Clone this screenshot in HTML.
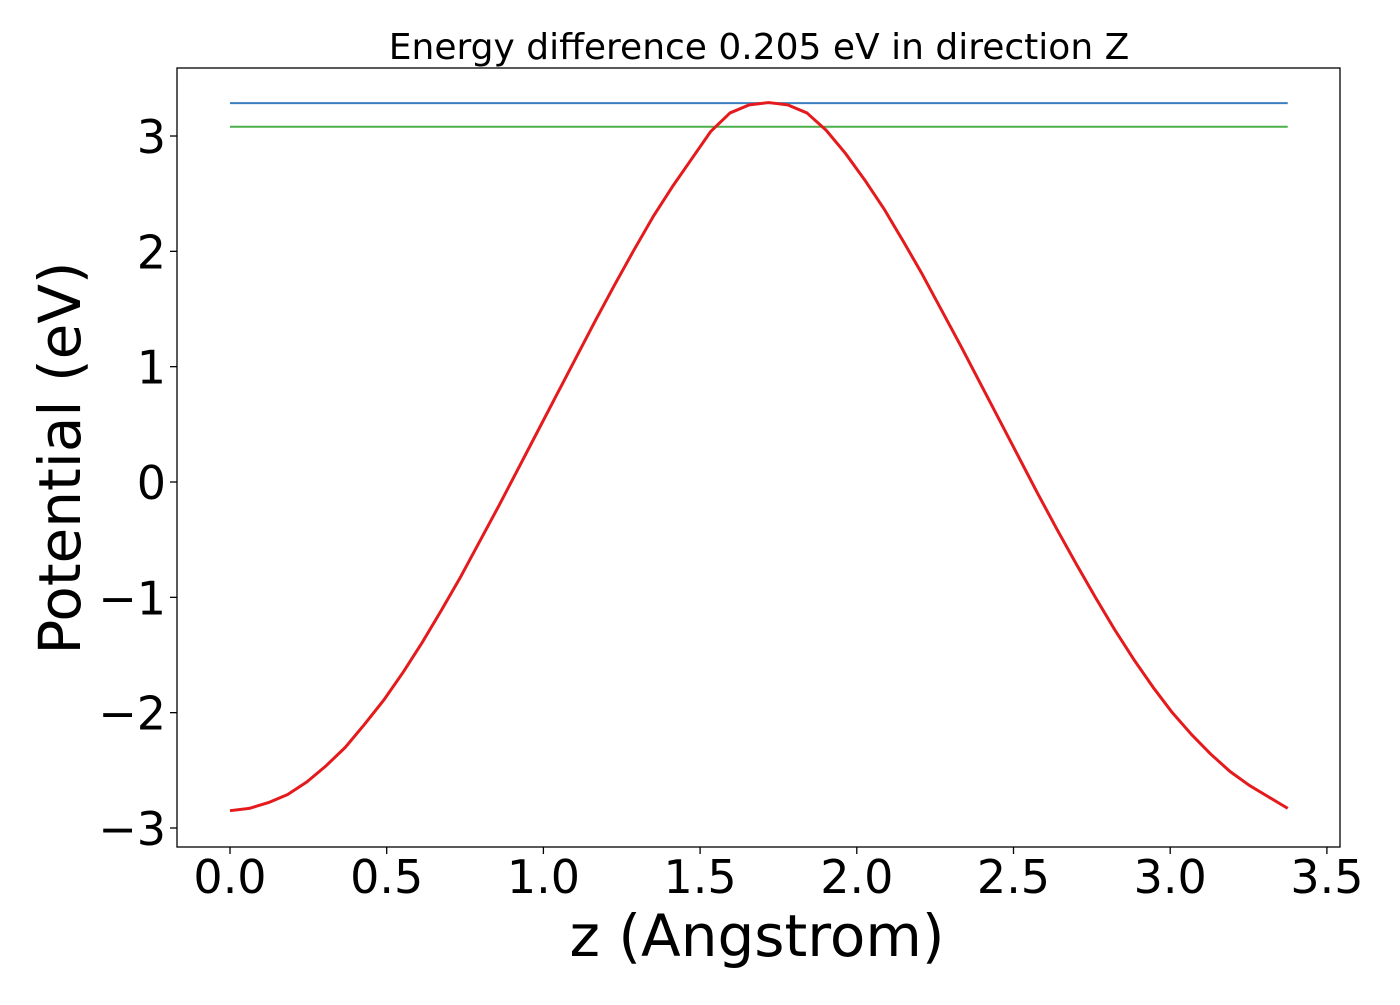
<!DOCTYPE html>
<html><head><meta charset="utf-8"><style>
body{margin:0;background:#fff}
svg text{font-family:"DejaVu Sans","Liberation Sans",sans-serif;fill:#000}
</style></head><body>
<svg id="chart" width="1400" height="1000">
<rect x="0" y="0" width="1400" height="1000" fill="#fff"/>
<text x="759" y="59" font-size="36" text-anchor="middle">Energy difference 0.205 eV in direction Z</text>
<g id="marks"></g>
<g id="axes"></g>
<text x="757" y="956" font-size="58" text-anchor="middle">z (Angstrom)</text>
<text transform="translate(80,458) rotate(-90)" font-size="58" text-anchor="middle">Potential (eV)</text>
</svg>
<script>
const potential=[-2.85,-2.83,-2.78,-2.71,-2.60,-2.46,-2.30,-2.10,-1.89,-1.65,-1.39,-1.11,-0.82,-0.51,-0.20,0.12,0.44,0.76,1.08,1.40,1.71,2.01,2.30,2.56,2.80,3.04,3.20,3.27,3.29,3.27,3.20,3.05,2.85,2.62,2.37,2.09,1.80,1.49,1.18,0.86,0.54,0.22,-0.10,-0.41,-0.71,-1.00,-1.28,-1.54,-1.78,-2.00,-2.19,-2.36,-2.51,-2.63,-2.73,-2.83];
const zStart=0, zEnd=3.375;
const maxLevel=3.285, minLevel=3.08;
const xTicks=[0,0.5,1.0,1.5,2.0,2.5,3.0,3.5];
const xTickLabels=["0.0","0.5","1.0","1.5","2.0","2.5","3.0","3.5"];
const yTicks=[-3,-2,-1,0,1,2,3];
const yTickLabels=["\u22123","\u22122","\u22121","0","1","2","3"];
const L=177,R=1340,T=68,B=847;
const xs=v=>230+v*313.4;
const ys=v=>482-v*115.33;
const NS="http://www.w3.org/2000/svg";
const marks=document.getElementById('marks'), axes=document.getElementById('axes');
function mk(tag,attrs,parent){const e=document.createElementNS(NS,tag);for(const k in attrs)e.setAttribute(k,attrs[k]);parent.appendChild(e);return e;}
const n=potential.length;
const zs=potential.map((_,i)=>zStart+(zEnd-zStart)*i/(n-1));
let l1=mk('line',{x1:xs(zs[0]),x2:xs(zs[n-1]),y1:ys(maxLevel),y2:ys(maxLevel),stroke:'#3b7fc0','stroke-width':2},marks);


let l2=mk('line',{x1:xs(zs[0]),x2:xs(zs[n-1]),y1:ys(minLevel),y2:ys(minLevel),stroke:'#4daf4a','stroke-width':2},marks);


let p=mk('polyline',{points:potential.map((v,i)=>xs(zs[i])+','+ys(v)).join(' '),fill:'none',stroke:'#e41a1c','stroke-width':3,'stroke-linejoin':'round'},marks);


let fr=mk('rect',{x:L,y:T,width:R-L,height:B-T,fill:'none',stroke:'#000','stroke-width':1.3},axes);


xTicks.forEach((v,i)=>{
  const x=xs(v);
  let t=mk('line',{x1:x,x2:x,y1:B,y2:B+7,stroke:'#000','stroke-width':1.3},axes);
  
  
  let tx=mk('text',{x:x,y:B+46,'font-size':46,'text-anchor':'middle'},axes);
  tx.textContent=xTickLabels[i];
  
  
});
yTicks.forEach((v,i)=>{
  const y=ys(v);
  let t=mk('line',{x1:L-7,x2:L,y1:y,y2:y,stroke:'#000','stroke-width':1.3},axes);
  
  
  let tx=mk('text',{x:L-11,y:y+17,'font-size':46,'text-anchor':'end'},axes);
  tx.textContent=yTickLabels[i];
  
  
});
</script>
</body></html>
